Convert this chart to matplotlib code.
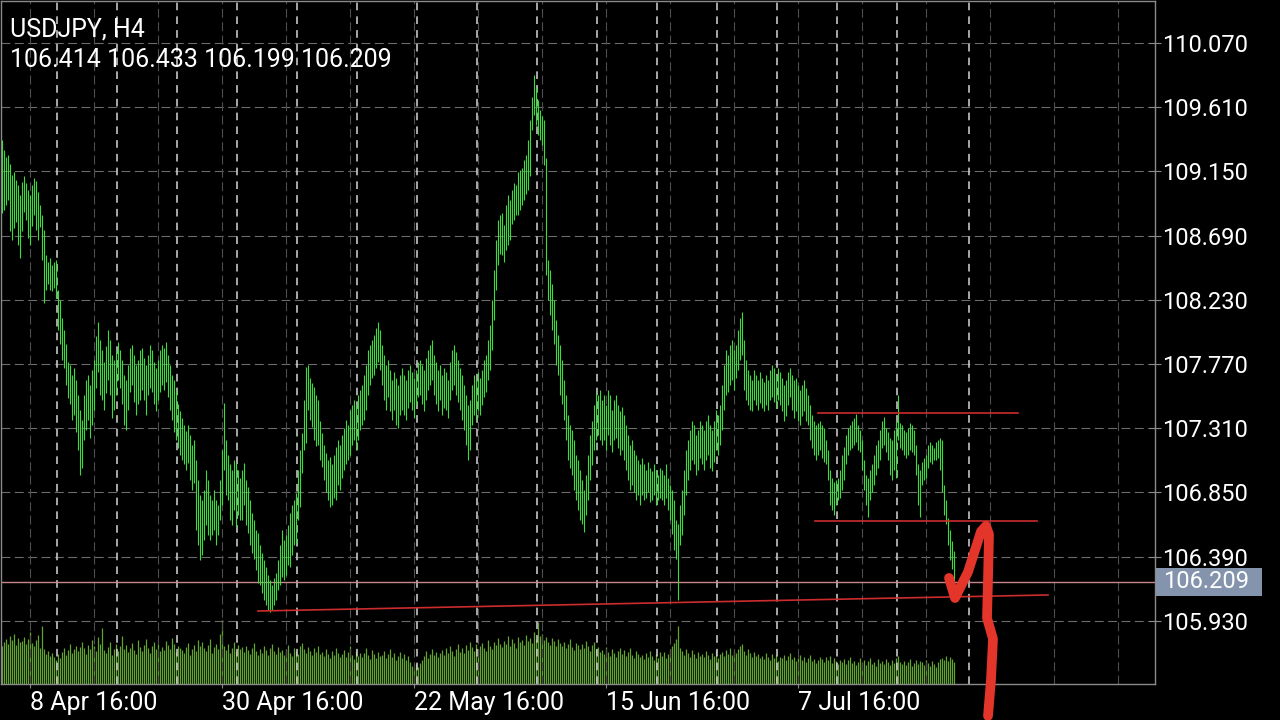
import numpy as np
import matplotlib.pyplot as plt
from matplotlib.patches import Rectangle
from matplotlib.transforms import blended_transform_factory

plt.rcParams['font.family'] = ['Roboto', 'DejaVu Sans']

# --- data (H4 bars) ---
symbol_title = "USDJPY, H4"
last_ohlc = [106.414, 106.433, 106.199, 106.209]

bar_high = [
    109.375, 109.30, 109.25, 109.27, 109.20, 109.125, 109.145, 109.09, 109.05, 108.98,
    109.075, 109.12, 109.07, 109.02, 108.98, 109.05, 109.10, 109.08, 109.00, 108.91,
    108.84, 108.73, 108.55, 108.50, 108.53, 108.48, 108.50, 108.515, 108.30, 108.23,
    108.10, 108.015, 107.91, 107.785, 107.765, 107.69, 107.74, 107.655, 107.55, 107.44,
    107.37, 107.55, 107.655, 107.69, 107.62, 107.725, 107.80, 107.97, 108.07, 107.94,
    107.87, 107.785, 107.90, 108.015, 107.94, 107.835, 107.80, 107.87, 107.93, 107.87,
    107.80, 107.69, 107.655, 107.765, 107.885, 107.905, 107.835, 107.765, 107.80, 107.87,
    107.885, 107.815, 107.765, 107.835, 107.905, 107.87, 107.785, 107.74, 107.80, 107.87,
    107.905, 107.885, 107.93, 107.835, 107.765, 107.69, 107.655, 107.585, 107.48, 107.43,
    107.38, 107.33, 107.29, 107.33, 107.26, 107.19, 107.225, 107.08, 106.94, 106.83,
    106.795, 106.865, 107.01, 106.94, 106.83, 106.795, 106.865, 106.795, 106.76, 106.94,
    107.155, 107.49, 107.225, 107.12, 107.05, 107.01, 107.08, 107.06, 107.01, 106.955,
    107.01, 107.06, 106.94, 106.89, 106.795, 106.70, 106.655, 106.58, 106.56, 106.475,
    106.415, 106.365, 106.315, 106.26, 106.22, 106.185, 106.235, 106.27, 106.365, 106.475,
    106.58, 106.51, 106.545, 106.615, 106.70, 106.76, 106.795, 106.845, 107.01, 107.155,
    107.275, 107.51, 107.75, 107.76, 107.67, 107.635, 107.605, 107.55, 107.51, 107.365,
    107.275, 107.19, 107.13, 107.08, 107.105, 107.05, 107.12, 107.175, 107.225, 107.19,
    107.26, 107.31, 107.37, 107.33, 107.44, 107.475, 107.51, 107.475, 107.55, 107.585,
    107.62, 107.69, 107.765, 107.87, 107.905, 107.94, 107.975, 108.025, 108.07, 108.015,
    107.905, 107.835, 107.765, 107.80, 107.725, 107.655, 107.71, 107.67, 107.62, 107.69,
    107.74, 107.69, 107.655, 107.725, 107.765, 107.71, 107.67, 107.725, 107.785, 107.80,
    107.765, 107.725, 107.815, 107.87, 107.905, 107.94, 107.835, 107.785, 107.725, 107.765,
    107.69, 107.74, 107.71, 107.655, 107.785, 107.87, 107.905, 107.855, 107.80, 107.74,
    107.69, 107.62, 107.55, 107.475, 107.51, 107.62, 107.69, 107.655, 107.71, 107.67,
    107.725, 107.80, 107.835, 107.94, 108.05, 108.23, 108.445, 108.66, 108.80, 108.84,
    108.85, 108.765, 108.91, 108.98, 108.945, 109.02, 109.07, 109.05, 109.145, 109.16,
    109.175, 109.23, 109.27, 109.375, 109.52, 109.685, 109.84, 109.75, 109.66, 109.59,
    109.55, 109.52, 109.245, 108.515, 108.445, 108.34, 108.23, 108.085, 107.975, 107.905,
    107.80, 107.655, 107.55, 107.405, 107.335, 107.295, 107.225, 107.12, 107.08, 107.01,
    106.94, 106.865, 106.975, 107.12, 107.26, 107.365, 107.475, 107.565, 107.55, 107.585,
    107.51, 107.55, 107.475, 107.585, 107.55, 107.44, 107.51, 107.55, 107.475, 107.43,
    107.46, 107.405, 107.335, 107.26, 107.19, 107.225, 107.155, 107.12, 107.08, 107.05,
    107.095, 107.05, 107.01, 107.07, 107.025, 107.00, 107.05, 107.01, 106.975, 107.025,
    107.01, 106.975, 107.05, 106.955, 106.905, 106.865, 106.795, 106.655, 106.62, 106.76,
    106.865, 107.01, 107.155, 107.225, 107.295, 107.365, 107.33, 107.26, 107.295, 107.365,
    107.33, 107.295, 107.365, 107.405, 107.33, 107.295, 107.365, 107.44, 107.405, 107.475,
    107.62, 107.765, 107.87, 107.835, 107.905, 107.94, 107.87, 107.905, 108.015, 108.10,
    108.14, 107.94, 107.80, 107.725, 107.69, 107.655, 107.725, 107.69, 107.655, 107.71,
    107.67, 107.64, 107.69, 107.655, 107.725, 107.765, 107.74, 107.69, 107.74, 107.71,
    107.67, 107.62, 107.655, 107.71, 107.74, 107.69, 107.655, 107.67, 107.62, 107.585,
    107.62, 107.655, 107.595, 107.55, 107.475, 107.405, 107.365, 107.33, 107.35, 107.365,
    107.33, 107.31, 107.225, 107.155, 107.01, 106.955, 106.925, 106.94, 106.955, 107.01,
    107.12, 107.175, 107.26, 107.31, 107.33, 107.365, 107.38, 107.41, 107.33, 107.295,
    107.225, 107.08, 106.975, 106.955, 107.01, 107.05, 107.12, 107.19, 107.225, 107.295,
    107.365, 107.39, 107.31, 107.28, 107.24, 107.225, 107.295, 107.365, 107.545, 107.35,
    107.33, 107.295, 107.28, 107.31, 107.35, 107.33, 107.295, 107.19, 107.05, 107.01,
    107.065, 107.095, 107.12, 107.19, 107.21, 107.19, 107.165, 107.21, 107.225, 107.24,
    107.225, 106.90, 106.795, 106.665, 106.58, 106.50, 106.433,
]

bar_low = [
    108.85, 108.87, 108.91, 108.945, 108.72, 108.66, 108.745, 108.79, 108.62, 108.53,
    108.72, 108.86, 108.80, 108.67, 108.62, 108.76, 108.84, 108.73, 108.66, 108.75,
    108.515, 108.21, 108.30, 108.34, 108.30, 108.29, 108.315, 108.245, 108.015, 107.91,
    107.80, 107.74, 107.62, 107.525, 107.48, 107.37, 107.405, 107.285, 107.155, 106.975,
    107.025, 107.225, 107.30, 107.37, 107.24, 107.33, 107.44, 107.60, 107.71, 107.55,
    107.51, 107.44, 107.565, 107.655, 107.55, 107.385, 107.44, 107.55, 107.655, 107.60,
    107.48, 107.335, 107.30, 107.44, 107.57, 107.62, 107.50, 107.405, 107.48, 107.515,
    107.585, 107.51, 107.405, 107.55, 107.60, 107.57, 107.48, 107.43, 107.51, 107.57,
    107.62, 107.585, 107.64, 107.53, 107.44, 107.37, 107.285, 107.225, 107.17, 107.12,
    107.08, 107.05, 107.01, 107.06, 106.94, 106.87, 106.92, 106.58, 106.475, 106.365,
    106.40, 106.51, 106.615, 106.545, 106.51, 106.545, 106.58, 106.475, 106.545, 106.65,
    106.76, 107.01, 106.83, 106.795, 106.655, 106.615, 106.725, 106.60, 106.69, 106.65,
    106.65, 106.76, 106.615, 106.56, 106.475, 106.415, 106.37, 106.295, 106.20, 106.185,
    106.13, 106.08, 106.045, 106.01, 105.995, 106.01, 106.045, 106.08, 106.15, 106.185,
    106.245, 106.22, 106.26, 106.33, 106.315, 106.40, 106.475, 106.49, 106.65, 106.745,
    106.99, 107.155, 107.205, 107.44, 107.37, 107.32, 107.225, 107.18, 107.19, 107.08,
    107.03, 106.94, 106.85, 106.795, 106.745, 106.76, 106.81, 106.795, 106.90, 106.865,
    106.955, 107.01, 107.05, 107.08, 107.12, 107.19, 107.225, 107.155, 107.225, 107.30,
    107.335, 107.37, 107.44, 107.55, 107.62, 107.67, 107.69, 107.74, 107.785, 107.725,
    107.62, 107.51, 107.44, 107.53, 107.43, 107.37, 107.44, 107.335, 107.31, 107.405,
    107.44, 107.405, 107.37, 107.455, 107.50, 107.44, 107.385, 107.475, 107.53, 107.55,
    107.48, 107.43, 107.51, 107.585, 107.62, 107.655, 107.55, 107.48, 107.43, 107.51,
    107.405, 107.455, 107.44, 107.385, 107.51, 107.585, 107.62, 107.55, 107.50, 107.44,
    107.37, 107.30, 107.19, 107.08, 107.155, 107.335, 107.405, 107.37, 107.44, 107.405,
    107.475, 107.53, 107.57, 107.655, 107.725, 107.87, 108.085, 108.30, 108.48, 108.555,
    108.55, 108.50, 108.59, 108.625, 108.66, 108.77, 108.80, 108.84, 108.835, 108.875,
    108.91, 108.945, 108.985, 109.02, 109.12, 109.45, 109.555, 109.485, 109.41, 109.375,
    109.34, 109.195, 108.41, 108.23, 108.12, 108.015, 107.91, 107.765, 107.69, 107.55,
    107.48, 107.37, 107.225, 107.08, 107.025, 106.975, 106.87, 106.795, 106.725, 106.65,
    106.62, 106.565, 106.69, 106.795, 106.94, 107.045, 107.155, 107.225, 107.26, 107.225,
    107.19, 107.225, 107.155, 107.26, 107.19, 107.14, 107.225, 107.24, 107.17, 107.12,
    107.155, 107.08, 107.01, 106.94, 106.87, 106.90, 106.85, 106.795, 106.83, 106.76,
    106.83, 106.795, 106.81, 106.85, 106.78, 106.795, 106.83, 106.76, 106.795, 106.81,
    106.795, 106.76, 106.81, 106.725, 106.655, 106.55, 106.44, 106.37, 106.08, 106.475,
    106.545, 106.69, 106.83, 106.94, 107.01, 107.08, 107.05, 106.975, 107.01, 107.095,
    107.05, 107.01, 107.08, 107.12, 107.025, 107.00, 107.065, 107.155, 107.12, 107.19,
    107.30, 107.44, 107.55, 107.57, 107.62, 107.655, 107.585, 107.67, 107.725, 107.80,
    107.835, 107.585, 107.51, 107.475, 107.44, 107.43, 107.51, 107.475, 107.44, 107.49,
    107.455, 107.43, 107.475, 107.44, 107.51, 107.53, 107.50, 107.455, 107.51, 107.475,
    107.43, 107.365, 107.40, 107.475, 107.53, 107.44, 107.385, 107.43, 107.365, 107.33,
    107.40, 107.43, 107.365, 107.33, 107.225, 107.17, 107.12, 107.08, 107.12, 107.155,
    107.095, 107.065, 107.05, 106.94, 106.76, 106.725, 106.69, 106.76, 106.795, 106.81,
    106.865, 106.94, 107.05, 107.12, 107.155, 107.165, 107.19, 107.21, 107.155, 107.14,
    107.01, 106.865, 106.76, 106.675, 106.795, 106.85, 106.905, 106.975, 107.025, 107.08,
    107.165, 107.19, 107.14, 107.08, 106.975, 106.94, 107.01, 106.955, 107.225, 107.165,
    107.155, 107.12, 107.095, 107.12, 107.155, 107.14, 107.12, 106.975, 106.76, 106.675,
    106.90, 106.94, 106.955, 107.025, 107.065, 107.05, 107.08, 107.08, 107.095, 107.01,
    106.855, 106.69, 106.62, 106.475, 106.365, 106.30, 106.199,
]

# tick volume, hundreds of ticks
volume = [
    38, 42, 45, 40, 48, 44, 50, 39, 46, 42,
    43, 47, 40, 45, 52, 41, 38, 44, 49, 36,
    58, 35, 30, 33, 28, 31, 27, 24, 30, 26,
    32, 36, 29, 34, 40, 31, 35, 38, 33, 37,
    42, 36, 30, 39, 35, 44, 38, 33, 47, 40,
    56, 34, 31, 37, 42, 29, 35, 40, 33, 38,
    48, 35, 39, 32, 36, 41, 34, 30, 44, 37,
    33, 39, 45, 36, 31, 38, 42, 35, 40, 33,
    37, 34, 43, 39, 35, 46, 40, 32, 38, 36,
    34, 31, 37, 41, 29, 35, 39, 33, 44, 38,
    42, 36, 33, 39, 45, 31, 37, 40, 35, 50,
    64, 38, 34, 40, 31, 36, 42, 33, 39, 35,
    37, 32, 38, 34, 30, 36, 41, 33, 29, 35,
    31, 38, 34, 29, 36, 40, 33, 30, 37, 32,
    34, 29, 35, 39, 31, 28, 36, 33, 30, 38,
    41, 35, 31, 37, 33, 29, 36, 32, 38, 30,
    32, 28, 35, 30, 26, 33, 29, 36, 31, 27,
    30, 34, 27, 32, 38, 29, 25, 33, 28, 31,
    27, 31, 36, 29, 25, 34, 30, 26, 32, 28,
    29, 33, 26, 30, 35, 27, 31, 24, 28, 32,
    26, 30, 24, 28, 22, 18, 16, 20, 17, 21,
    24, 28, 33, 26, 30, 35, 29, 32, 27, 31,
    34, 29, 36, 31, 38, 33, 28, 35, 40, 32,
    36, 31, 39, 34, 42, 37, 33, 40, 35, 38,
    41, 36, 33, 44, 38, 35, 42, 39, 46, 40,
    37, 43, 40, 48, 38, 45, 41, 36, 47, 42,
    44, 39, 49, 43, 46, 41, 52, 45, 62, 48,
    50, 44, 47, 42, 39, 46, 43, 38, 45, 41,
    38, 42, 36, 40, 45, 37, 34, 41, 39, 35,
    40, 36, 43, 38, 33, 39, 42, 35, 37, 32,
    34, 30, 37, 32, 28, 35, 31, 27, 33, 36,
    30, 34, 28, 32, 36, 29, 26, 33, 30, 27,
    29, 25, 31, 27, 33, 28, 24, 30, 26, 32,
    28, 32, 26, 30, 35, 38, 41, 45, 58, 36,
    33, 29, 35, 31, 27, 34, 30, 26, 32, 28,
    30, 27, 33, 29, 25, 31, 28, 34, 26, 30,
    32, 28, 34, 30, 36, 29, 33, 31, 35, 38,
    40, 33, 29, 35, 31, 27, 32, 28, 30, 26,
    28, 25, 31, 27, 24, 30, 26, 29, 23, 27,
    26, 29, 24, 28, 31, 25, 27, 23, 26, 29,
    24, 27, 22, 26, 29, 23, 25, 21, 24, 27,
    25, 22, 27, 24, 28, 21, 26, 23, 20, 24,
    22, 25, 20, 24, 27, 21, 23, 19, 22, 26,
    21, 24, 19, 23, 26, 20, 22, 18, 25, 21,
    23, 20, 25, 22, 19, 24, 21, 26, 28, 22,
    20, 23, 19, 22, 25, 18, 21, 24, 20, 23,
    22, 19, 24, 21, 18, 23, 20, 17, 22, 25,
    26, 24, 28, 23, 27, 25, 22,
]

price_ticks = [105.930, 106.390, 106.850, 107.310, 107.770,
               108.230, 108.690, 109.150, 109.610, 110.070]
date_tick_bars = [14, 110, 206, 302, 398]
date_tick_labels = ["8 Apr 16:00", "30 Apr 16:00", "22 May 16:00",
                    "15 Jun 16:00", "7 Jul 16:00"]

# user-drawn objects
range_top = 107.419
range_top_bars = [408, 508]
range_bottom = 106.645
range_bottom_bars = [406.5, 517.5]
trend_bars = [128, 523]
trend_prices = [106.00, 106.115]
stroke_bars = [473.5, 476.5, 483, 489.5, 492, 493.5, 493, 492.5, 495.5, 494.5, 493]
stroke_prices = [106.237, 106.093, 106.28, 106.57, 106.61, 106.55,
                 106.222, 105.95, 105.80, 105.506, 105.248]

# --- figure ---
fig = plt.figure(figsize=(12.8, 7.2), dpi=100, facecolor='black')
rect = [1 / 1280, 36 / 720, 1154 / 1280, 683 / 720]
ax_vol = fig.add_axes(rect, zorder=0)
ax = fig.add_axes(rect, zorder=1)

x = np.arange(len(bar_high))
xlim = (-0.5, 576.5)

# volume histogram
ax_vol.set_facecolor('black')
ax_vol.vlines(x, 0, volume, color='#62a42e', lw=0.9)
ax_vol.set_xlim(*xlim)
ax_vol.set_ylim(0, 683)
ax_vol.axis('off')

ax.set_facecolor('none')
ax.set_xlim(*xlim)
ax.set_ylim(105.477, 110.371)

# grid
for p in price_ticks:
    ax.axhline(p, color='#6c6c6c', lw=0.8, dashes=(8, 4), zorder=1)
for b in np.arange(14, 577, 32):
    ax.axvline(b, color='#4e4e4e', lw=0.8, dashes=(8, 4), zorder=1)
for b in list(np.arange(27.5, 450, 30)) + [483.5]:
    ax.axvline(b, color='#d6d6d6', lw=1.1, dashes=(5, 4), zorder=1)

# price bars
ax.vlines(x, bar_low, bar_high, color='#3ade3a', lw=0.8, zorder=3)

# current price line
ax.axhline(last_ohlc[3], color='#c9858c', lw=1.0, zorder=2)

# user lines
red = '#cc2c2c'
ax.plot(range_top_bars, [range_top] * 2, color=red, lw=1.2, zorder=4)
ax.plot(range_bottom_bars, [range_bottom] * 2, color=red, lw=1.2, zorder=4)
ax.plot(trend_bars, trend_prices, color=red, lw=1.2, zorder=4)
ax.plot(stroke_bars, stroke_prices, color='#e4352b', lw=7,
        solid_capstyle='round', solid_joinstyle='round', clip_on=False, zorder=6)

# axes styling
for s in ax.spines.values():
    s.set_color('#8a8a8a')
    s.set_linewidth(1.0)
ax.yaxis.tick_right()
ax.set_yticks(price_ticks, [f'{p:.3f}' for p in price_ticks])
ax.tick_params(axis='y', direction='inout', length=8, color='#8a8a8a',
               labelcolor='white', labelsize=17, pad=1)
ax.set_xticks(date_tick_bars, date_tick_labels)
ax.tick_params(axis='x', direction='out', length=3, color='#8a8a8a',
               labelcolor='white', labelsize=18, pad=2)
for lbl in ax.get_xticklabels():
    lbl.set_ha('left')

# last price tag
tr = blended_transform_factory(ax.transAxes, ax.transData)
ax.add_patch(Rectangle((1.0 + 1 / 1154, last_ohlc[3] - 0.1), 106 / 1154, 0.2,
                       transform=tr, facecolor='#8494ac', edgecolor='none',
                       clip_on=False, zorder=5))
ax.text(1.0 + 8 / 1154, last_ohlc[3], f'{last_ohlc[3]:.3f}', transform=tr,
        ha='left', va='center', fontsize=17, color='white', zorder=6, clip_on=False)

# header
fig.text(10 / 1280, 1 - 30 / 720, symbol_title, ha='left', va='center',
         fontsize=18, color='white')
fig.text(10 / 1280, 1 - 60 / 720, ' '.join(f'{v:.3f}' for v in last_ohlc),
         ha='left', va='center', fontsize=18, color='white')

fig.savefig('out.png', dpi=100, facecolor='black')
